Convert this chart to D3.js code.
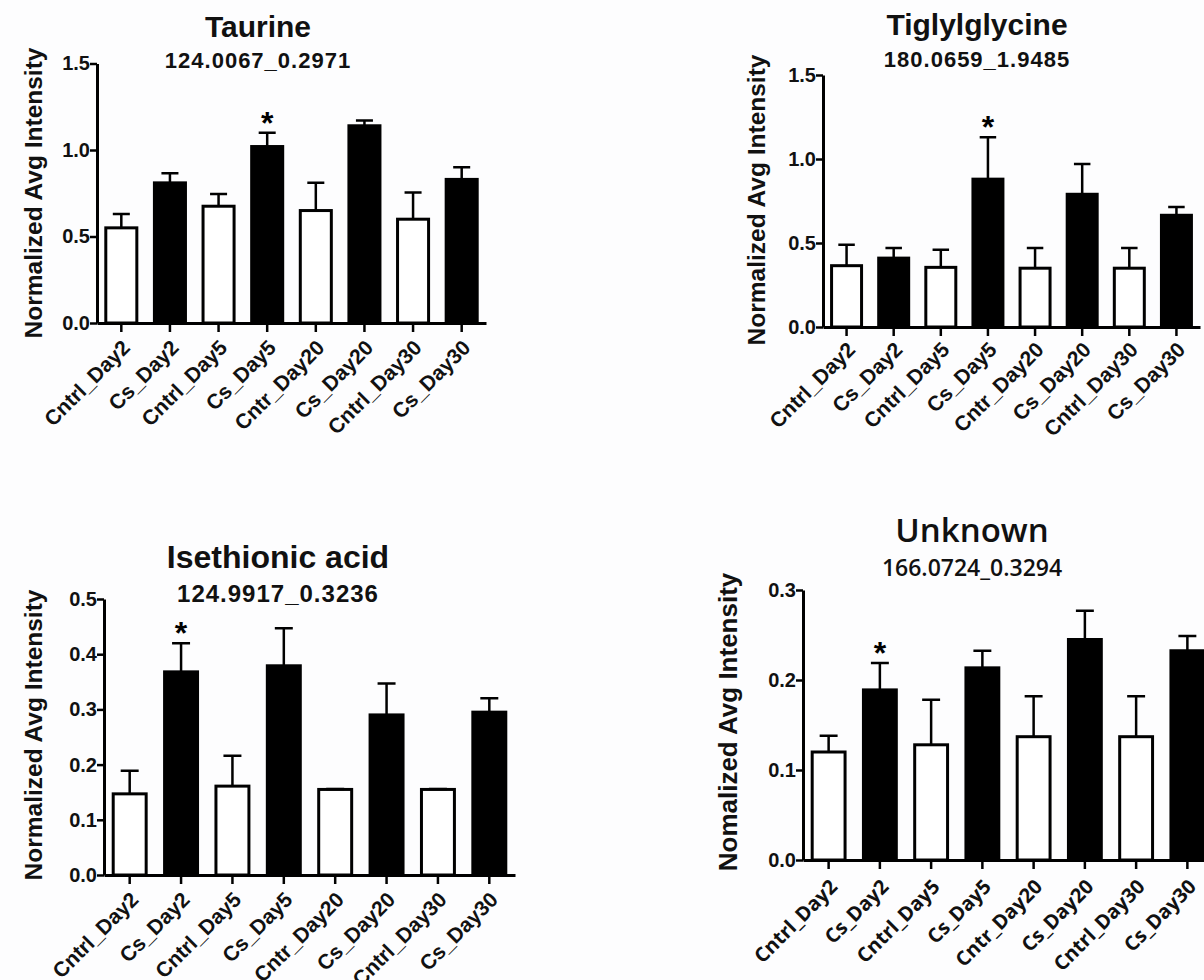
<!DOCTYPE html>
<html>
<head>
<meta charset="utf-8">
<script src="https://cdn.jsdelivr.net/npm/d3@7"></script>
<style>
  body { margin: 0; background: #fff; }
  svg { display: block; }
</style>
</head>
<body>
<div id="chart"></div>
<script>
const width = 1204;
const height = 980;

// groups, same for every panel
const categories = ["Cntrl_Day2", "Cs_Day2", "Cntrl_Day5", "Cs_Day5", "Cntr_Day20", "Cs_Day20", "Cntrl_Day30", "Cs_Day30"];
const isControl = [true, false, true, false, true, false, true, false];

// values (mean and upper error)
const taurineMean = [0.55, 0.81, 0.675, 1.02, 0.65, 1.14, 0.60, 0.83];
const taurineSem  = [0.08, 0.055, 0.07, 0.08, 0.16, 0.03, 0.155, 0.07];
const tiglylMean  = [0.365, 0.41, 0.355, 0.88, 0.35, 0.79, 0.35, 0.665];
const tiglylSem   = [0.125, 0.06, 0.105, 0.25, 0.12, 0.18, 0.12, 0.05];
const isethMean   = [0.147, 0.368, 0.161, 0.379, 0.155, 0.29, 0.155, 0.295];
const isethSem    = [0.042, 0.052, 0.055, 0.068, 0.001, 0.057, 0.001, 0.025];
const unknownMean = [0.12, 0.189, 0.128, 0.2135, 0.137, 0.245, 0.137, 0.2325];
const unknownSem  = [0.018, 0.03, 0.05, 0.019, 0.045, 0.032, 0.045, 0.0165];

const titles    = ["Taurine", "Tiglylglycine", "Isethionic acid", "Unknown"];
const subtitles = ["124.0067_0.2971", "180.0659_1.9485", "124.9917_0.3236", "166.0724_0.3294"];
const yLabels   = ["Normalized Avg Intensity", "Normalized Avg Intensity", "Normalized Avg Intensity", "Nomalized Avg Intensity"];
const yMaxes    = [1.5, 1.5, 0.5, 0.3];
const yTickSets = [[0, 0.5, 1.0, 1.5], [0, 0.5, 1.0, 1.5], [0, 0.1, 0.2, 0.3, 0.4, 0.5], [0, 0.1, 0.2, 0.3]];
const starIndex = [3, 3, 1, 1];

// panel placement on the page
const arial = "Liberation Sans, Arial, sans-serif";
const layout = [
  { left: 97,  right: 486,  top: 63.5, bottom: 323, titleX: 258, titleY: 37,  subY: 68,  labX: 33,  labY: 193, titleSize: 30, subSize: 22, labSize: 24.5, tickFont: 21, weight: "bold", font: arial, xShift: [10, 26] },
  { left: 823, right: 1200, top: 75,   bottom: 327, titleX: 977, titleY: 35,  subY: 67,  labX: 756, labY: 200, titleSize: 30, subSize: 22, labSize: 24.5, tickFont: 21, weight: "bold", font: arial, xShift: [10, 24] },
  { left: 104, right: 515,  top: 599,  bottom: 875, titleX: 278, titleY: 568, subY: 602, labX: 33,  labY: 735, titleSize: 32, subSize: 24, labSize: 24.5, tickFont: 21, weight: "bold", font: arial, xShift: [10, 26] },
  { left: 803, right: 1213, top: 590,  bottom: 860, titleX: 972, titleY: 542, subY: 576, labX: 728, labY: 722, titleSize: 33, subSize: 23, labSize: 26, tickFont: 20, weight: 700, font: "Open Sans, sans-serif", xShift: [10, 28] }
];

const means = [taurineMean, tiglylMean, isethMean, unknownMean];
const sems  = [taurineSem, tiglylSem, isethSem, unknownSem];

const svg = d3.select("#chart").append("svg")
    .attr("width", width)
    .attr("height", height)
    .style("font-family", arial);

svg.append("rect").attr("width", width).attr("height", height).attr("fill", "#fdfdfe");

function drawPanel(p) {
  const L = layout[p];
  const rows = categories.map((c, i) => ({ name: c, mean: means[p][i], sem: sems[p][i], ctrl: isControl[i] }));

  const x = d3.scaleBand()
      .domain(categories)
      .range([L.left, L.right])
      .paddingInner(0.3)
      .paddingOuter(0.15);

  const y = d3.scaleLinear()
      .domain([0, yMaxes[p]])
      .range([L.bottom, L.top]);

  const g = svg.append("g");

  // bars
  g.selectAll(".bar")
    .data(rows)
    .enter().append("rect")
      .attr("x", d => x(d.name) + 1.5)
      .attr("y", d => y(d.mean))
      .attr("width", x.bandwidth() - 3)
      .attr("height", d => y(0) - y(d.mean))
      .attr("fill", d => d.ctrl ? "#fff" : "#000")
      .attr("stroke", "#000")
      .attr("stroke-width", 3);

  // error bars, upper half only
  const cx = d => x(d.name) + x.bandwidth() / 2;
  const capW = x.bandwidth() * 0.25;
  g.selectAll(".err")
    .data(rows)
    .enter().append("path")
      .attr("d", d => `M${cx(d)},${y(d.mean)}V${y(d.mean + d.sem)}M${cx(d) - capW},${y(d.mean + d.sem)}H${cx(d) + capW}`)
      .attr("fill", "none")
      .attr("stroke", "#000")
      .attr("stroke-width", 2.5);

  // significance star
  const s = rows[starIndex[p]];
  g.append("text")
      .attr("x", cx(s))
      .attr("y", y(s.mean + s.sem) + 1)
      .attr("text-anchor", "middle")
      .attr("font-size", 32)
      .attr("font-weight", "bold")
      .text("*");

  // y axis
  const yAxis = g.append("g")
      .attr("transform", `translate(${L.left},0)`)
      .call(d3.axisLeft(y).tickValues(yTickSets[p]).tickFormat(d3.format(".1f")).tickSize(7).tickSizeOuter(0));
  yAxis.select(".domain").attr("stroke-width", 3);
  yAxis.selectAll(".tick line").attr("stroke-width", 2.5);
  yAxis.selectAll(".tick text")
      .attr("font-size", 20)
      .attr("font-weight", "bold")
      .attr("font-family", arial)
      .attr("x", -7)
      .attr("fill", "#111");

  // x axis with slanted labels
  const xAxis = g.append("g")
      .attr("transform", `translate(0,${L.bottom})`)
      .call(d3.axisBottom(x).tickSize(9).tickSizeOuter(0));
  xAxis.select(".domain").attr("stroke-width", 3);
  xAxis.selectAll(".tick line").attr("stroke-width", 2.5);
  xAxis.selectAll(".tick text")
      .attr("font-size", L.tickFont)
      .attr("font-weight", L.weight)
      .attr("font-family", L.font)
      .attr("fill", "#111")
      .attr("text-anchor", "end")
      .attr("dy", 0)
      .attr("y", 0)
      .attr("transform", `translate(${L.xShift[0]},${L.xShift[1]}) rotate(-45)`);

  // titles
  g.append("text")
      .attr("x", L.titleX).attr("y", L.titleY)
      .attr("text-anchor", "middle")
      .attr("font-size", L.titleSize)
      .attr("font-weight", p === 3 ? 600 : "bold")
      .attr("font-family", L.font)
      .attr("fill", "#111")
      .text(titles[p]);

  g.append("text")
      .attr("x", L.titleX).attr("y", L.subY)
      .attr("text-anchor", "middle")
      .attr("font-size", L.subSize)
      .attr("font-weight", p === 3 ? 600 : "bold")
      .attr("font-family", L.font)
      .attr("letter-spacing", p === 3 ? 0 : 1)
      .attr("fill", "#111")
      .text(subtitles[p]);

  // y axis label
  g.append("text")
      .attr("transform", `translate(${L.labX},${L.labY}) rotate(-90)`)
      .attr("text-anchor", "middle")
      .attr("dominant-baseline", "central")
      .attr("font-size", L.labSize)
      .attr("font-weight", "bold")
      .attr("fill", "#111")
      .text(yLabels[p]);
}

[0, 1, 2, 3].forEach(drawPanel);
</script>
</body>
</html>
